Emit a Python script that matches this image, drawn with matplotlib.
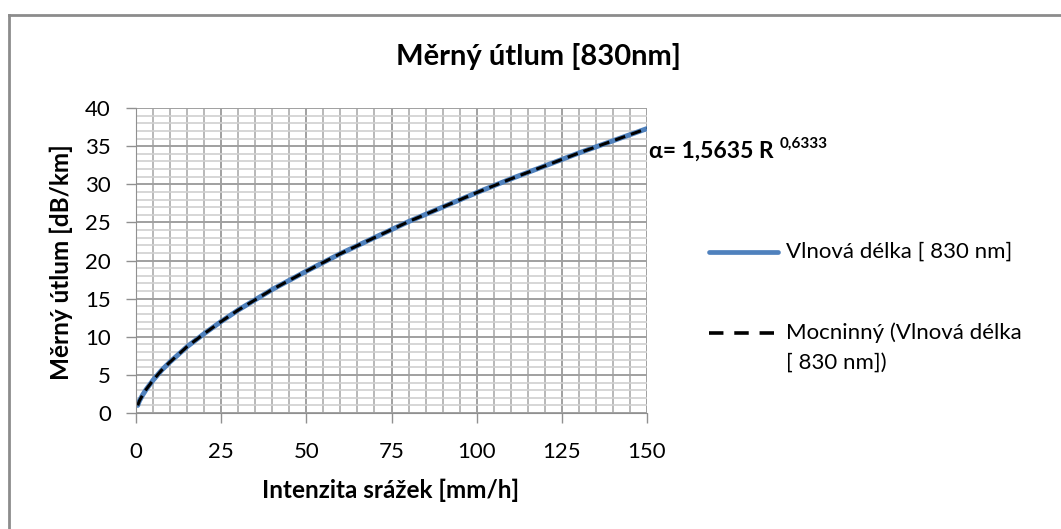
import numpy as np
import matplotlib.pyplot as plt
from matplotlib.lines import Line2D
from matplotlib.ticker import MultipleLocator

plt.rcParams["font.family"] = ["Lato", "DejaVu Sans"]

# rain intensity [mm/h] and specific attenuation at 830 nm [dB/km]
intensity = [0.5, 1, 2, 3, 5, 7.5, 10, 15, 20, 25, 30, 40, 50, 60, 70,
             80, 90, 100, 110, 120, 130, 140, 150]
attenuation = [1.0, 1.6, 2.4, 3.1, 4.3, 5.6, 6.7, 8.7, 10.4, 12.0, 13.5, 16.2,
               18.6, 20.9, 23.0, 25.1, 27.0, 28.9, 30.7, 32.4, 34.1, 35.7, 37.3]
x_ticks = [0, 25, 50, 75, 100, 125, 150]
y_ticks = [0, 5, 10, 15, 20, 25, 30, 35, 40]

W, H = 1061, 529
BLUE = "#4f81bd"
DASH = (0, (3.5, 2.0))

fig = plt.figure(figsize=(W / 100, H / 100), dpi=100)
ax = fig.add_axes([136 / W, 1 - 413 / H, 511 / W, 305 / H])

ax.set_xlim(0, 150)
ax.set_ylim(0, 40)
ax.set_xticks(x_ticks)
ax.set_yticks(y_ticks)
ax.xaxis.set_minor_locator(MultipleLocator(5))
ax.yaxis.set_minor_locator(MultipleLocator(1))
ax.grid(True, which="minor", axis="y", color="#d0d0d0", lw=1.2)
ax.grid(True, which="minor", axis="x", color="#b8b8b8", lw=1.4)
ax.grid(True, which="major", color="#a0a0a0", lw=1.4)
ax.set_axisbelow(True)
ax.tick_params(which="minor", length=0)
ax.tick_params(which="major", length=7, width=1, color="#909090",
               labelsize=16)
ax.tick_params(axis="x", pad=14)
ax.tick_params(axis="y", pad=11)
for side in ("top", "right"):
    ax.spines[side].set_visible(False)
for side in ("left", "bottom"):
    ax.spines[side].set_color("#909090")

ax.plot(intensity, attenuation, color=BLUE, lw=3.6, solid_capstyle="round")
ax.plot(intensity, attenuation, color="black", lw=2.2, ls=DASH)

ax.set_xlabel("Intenzita srážek [mm/h]", fontsize=17.5, fontweight="bold")
ax.set_ylabel("Měrný útlum [dB/km]", fontsize=17.5, fontweight="bold")
ax.xaxis.set_label_coords((391 - 136) / 511, (413 - 479) / 305)
ax.yaxis.set_label_coords((73 - 136) / 511, (413 - 262) / 305)
fig.text(538 / W, 1 - 57 / H, "Měrný útlum [830nm]", fontsize=21,
         fontweight="bold", ha="center", va="center")

# power-law trendline equation with superscript exponent
eq = fig.text(649 / W, 1 - 151 / H, "α= 1,5635 R", fontsize=16.5,
              fontweight="bold", ha="left", va="center")
fig.canvas.draw()
x_end = eq.get_window_extent().x1
fig.text((x_end + 6) / W, 1 - 144 / H, "0,6333", fontsize=11,
         fontweight="bold", ha="left", va="center")

# legend drawn by hand so the handle sits on the first text line
fig.add_artist(Line2D([709 / W, 778 / W], [1 - 252 / H] * 2, color=BLUE,
                      lw=3.4, solid_capstyle="round"))
fig.add_artist(Line2D([709 / W, 778 / W], [1 - 333 / H] * 2, color="black",
                      lw=2.6, ls=(0, (4, 3))))
fig.text(786 / W, 1 - 252 / H, "Vlnová délka [ 830 nm]", fontsize=16,
         ha="left", va="center")
fig.text(786 / W, 1 - 333 / H, "Mocninný (Vlnová délka", fontsize=16,
         ha="left", va="center")
fig.text(786 / W, 1 - 363 / H, "[ 830 nm])", fontsize=16,
         ha="left", va="center")

# chart area frame
fig.add_artist(Line2D([9 / W, 9 / W], [0, 1 - 15 / H], color="#8c8c8c", lw=2))
fig.add_artist(Line2D([9 / W, 1], [1 - 15 / H, 1 - 15 / H], color="#8c8c8c", lw=2))

fig.savefig("out.png", dpi=100)
